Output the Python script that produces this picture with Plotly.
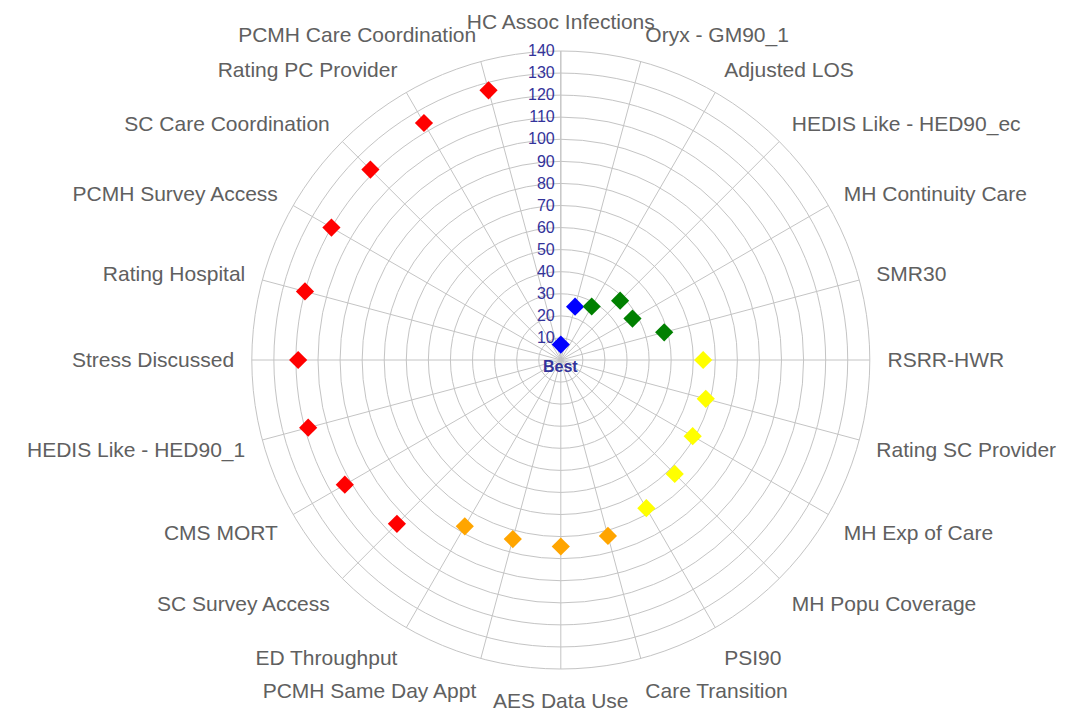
import plotly.graph_objects as go

categories = [
    "HC Assoc Infections", "Oryx - GM90_1", "Adjusted LOS", "HEDIS Like - HED90_ec",
    "MH Continuity Care", "SMR30", "RSRR-HWR", "Rating SC Provider",
    "MH Exp of Care", "MH Popu Coverage", "PSI90", "Care Transition",
    "AES Data Use", "PCMH Same Day Appt", "ED Throughput", "SC Survey Access",
    "CMS MORT", "HEDIS Like - HED90_1", "Stress Discussed", "Rating Hospital",
    "PCMH Survey Access", "SC Care Coordination", "Rating PC Provider", "PCMH Care Coordination",
]

blue_cats = ["HC Assoc Infections", "Oryx - GM90_1"]
blue_vals = [7, 25]

green_cats = ["Adjusted LOS", "HEDIS Like - HED90_ec", "MH Continuity Care", "SMR30"]
green_vals = [28, 38, 37.5, 48.5]

yellow_cats = ["RSRR-HWR", "Rating SC Provider", "MH Exp of Care", "MH Popu Coverage", "PSI90"]
yellow_vals = [64.5, 68, 69, 73, 77.5]

orange_cats = ["Care Transition", "AES Data Use", "PCMH Same Day Appt", "ED Throughput"]
orange_vals = [82.5, 84.5, 84, 87]

red_cats = ["SC Survey Access", "CMS MORT", "HEDIS Like - HED90_1", "Stress Discussed",
            "Rating Hospital", "PCMH Survey Access", "SC Care Coordination",
            "Rating PC Provider", "PCMH Care Coordination"]
red_vals = [105, 113, 118.5, 119, 120, 120, 122, 124, 126.5]

radial_ticks = [10, 20, 30, 40, 50, 60, 70, 80, 90, 100, 110, 120, 130, 140]

series = [
    (blue_cats, blue_vals, "#0000ff"),
    (green_cats, green_vals, "#008000"),
    (yellow_cats, yellow_vals, "#ffff00"),
    (orange_cats, orange_vals, "#ffa500"),
    (red_cats, red_vals, "#ff0000"),
]

fig = go.Figure()
for cats, vals, col in series:
    fig.add_trace(go.Scatterpolar(
        r=vals, theta=cats, mode="markers",
        marker=dict(symbol="diamond", size=14, color=col, line=dict(width=0)),
        showlegend=False, hoverinfo="r+theta",
    ))

W, H = 1077, 710
# page body has an 8px margin, so positions are shifted by -8
cx, cy, R = 552.8, 352.0, 309.0

fig.update_layout(
    width=W, height=H,
    margin=dict(l=0, r=0, t=0, b=0),
    paper_bgcolor="white",
    plot_bgcolor="white",
    font=dict(family="Liberation Sans, Arial, sans-serif"),
    polar=dict(
        domain=dict(x=[(cx - R) / W, (cx + R) / W], y=[(H - cy - R) / H, (H - cy + R) / H]),
        bgcolor="white",
        angularaxis=dict(
            type="category",
            categoryorder="array",
            categoryarray=categories,
            direction="clockwise",
            rotation=90,
            showgrid=True,
            gridcolor="#c4c4c4",
            gridwidth=1,
            showline=True,
            linecolor="#c4c4c4",
            linewidth=1,
            ticks="outside",
            ticklen=13,
            tickcolor="rgba(0,0,0,0)",
            tickfont=dict(size=21, color="#606060", family="Liberation Sans, Arial, sans-serif"),
            layer="below traces",
        ),
        radialaxis=dict(
            range=[0, 140],
            tickvals=radial_ticks,
            ticktext=[str(v) for v in radial_ticks],
            angle=90,
            side="counterclockwise",
            tickangle=90,
            showgrid=True,
            gridcolor="#c4c4c4",
            gridwidth=1,
            showline=True,
            linecolor="#c4c4c4",
            linewidth=1,
            ticks="",
            tickfont=dict(size=16, color="#33339a", family="Liberation Sans, Arial, sans-serif"),
            layer="below traces",
        ),
    ),
    annotations=[dict(
        text="<b>Best</b>", x=cx / W, y=(H - (cy + 6)) / H, xref="paper", yref="paper",
        showarrow=False, xanchor="center", yanchor="middle",
        font=dict(size=16, color="#33339a", family="Liberation Sans, Arial, sans-serif"),
    )],
)

fig.write_html("out.html")
